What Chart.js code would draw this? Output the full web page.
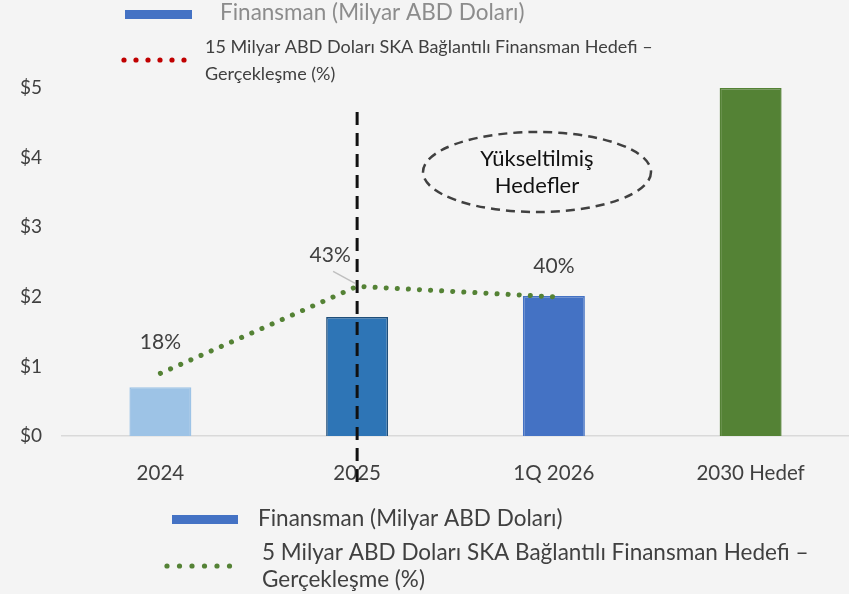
<!DOCTYPE html>
<html>
<head>
<meta charset="utf-8">
<script src="https://cdn.jsdelivr.net/npm/chart.js@4.4.1/dist/chart.umd.min.js"></script>
<style>
  html, body { margin: 0; padding: 0; background: #f4f4f4; }
  #wrap { width: 849px; height: 594px; position: relative; }
</style>
</head>
<body>
<div id="wrap"><canvas id="finChart"></canvas></div>
<script>
const categories = ['2024', '2025', '1Q 2026', '2030 Hedef'];
const financing = [0.70, 1.71, 2.01, 5.0];          // Milyar ABD Doları
const realisation = [18, 43, 40, null];             // %
const pctLabels = ['18%', '43%', '40%'];
const yTicks = [0, 1, 2, 3, 4, 5];
const barColors = ['#9dc3e6', '#2e75b6', '#4472c4', '#548235'];
const barBorders = ['#9dc3e6', '#1f4e79', '#4472c4', '#548235'];

const FONT = 'Lato, "Open Sans", sans-serif';
const ctx = document.getElementById('finChart').getContext('2d');

const extras = {
  id: 'extras',
  afterDatasetsDraw(chart) {
    const c = chart.ctx;
    const x = chart.scales.x;
    const lineMeta = chart.getDatasetMeta(1);

    // percentage labels
    c.save();
    c.font = '21px ' + FONT;
    c.fillStyle = '#404040';
    c.textAlign = 'center';
    c.textBaseline = 'middle';
    pctLabels.forEach((t, i) => {
      const p = lineMeta.data[i];
      let dx = 0;
      if (i === 1) dx = -27;
      c.fillText(t, p.x + dx, p.y - 31);
    });
    // leader line for 43%
    const p1 = lineMeta.data[1];
    c.strokeStyle = '#bfbfbf';
    c.lineWidth = 1.5;
    c.beginPath();
    c.moveTo(p1.x - 24, p1.y - 15);
    c.lineTo(p1.x - 2, p1.y - 3);
    c.stroke();

    // vertical dashed separator
    const vx = x.getPixelForValue(1);
    c.strokeStyle = '#111';
    c.lineWidth = 3;
    c.setLineDash([13, 8]);
    c.beginPath();
    c.moveTo(vx, 112);
    c.lineTo(vx, 486);
    c.stroke();

    // ellipse
    c.lineWidth = 2.5;
    c.strokeStyle = '#404040';
    c.setLineDash([9, 6]);
    c.beginPath();
    c.ellipse(537, 172, 114, 40, 0, 0, Math.PI * 2);
    c.stroke();
    c.setLineDash([]);
    c.fillStyle = '#111';
    c.font = '22px ' + FONT;
    c.fillText('Yükseltilmiş', 537, 159);
    c.fillText('Hedefler', 537, 186);

    // legends
    c.textAlign = 'left';
    // top legend
    c.fillStyle = '#4472c4';
    c.fillRect(125, 10, 67, 9);
    c.font = '22.5px ' + FONT;
    c.fillStyle = '#8c8c8c';
    c.fillText('Finansman (Milyar ABD Doları)', 220, 13);
    c.fillStyle = '#c00000';
    for (let i = 0; i < 6; i++) {
      c.beginPath();
      c.arc(124 + i * 12, 60, 2.6, 0, Math.PI * 2);
      c.fill();
    }
    c.font = '18px ' + FONT;
    c.fillStyle = '#404040';
    c.fillText('15 Milyar ABD Doları SKA Bağlantılı Finansman Hedefi –', 205, 47);
    c.fillText('Gerçekleşme (%)', 205, 74);
    // bottom legend
    c.font = '22.5px ' + FONT;
    c.fillStyle = '#4472c4';
    c.fillRect(172, 515, 66, 9);
    c.fillStyle = '#404040';
    c.fillText('Finansman (Milyar ABD Doları)', 258, 519);
    c.fillStyle = '#548235';
    for (let i = 0; i < 6; i++) {
      c.beginPath();
      c.arc(167 + i * 12.5, 566, 2.6, 0, Math.PI * 2);
      c.fill();
    }
    c.fillStyle = '#404040';
    c.fillText('5 Milyar ABD Doları SKA Bağlantılı Finansman Hedefi –', 262, 553);
    c.fillText('Gerçekleşme (%)', 262, 580);
    c.restore();
  }
};

const finChart = new Chart(ctx, {
  type: 'bar',
  data: {
    labels: categories,
    datasets: [
      {
        type: 'bar',
        label: 'Finansman (Milyar ABD Doları)',
        data: financing,
        backgroundColor: barColors,
        borderColor: barBorders,
        borderWidth: 1.5,
        barPercentage: 0.315,
        categoryPercentage: 1,
        order: 2
      },
      {
        type: 'line',
        label: '5 Milyar ABD Doları SKA Bağlantılı Finansman Hedefi – Gerçekleşme (%)',
        data: realisation,
        yAxisID: 'y2',
        borderColor: '#548235',
        borderWidth: 5,
        borderDash: [0.1, 11],
        borderCapStyle: 'round',
        pointRadius: 0,
        spanGaps: false,
        order: 1
      }
    ]
  },
  options: {
    responsive: true,
    maintainAspectRatio: false,
    animation: false,
    layout: { padding: { top: 88, left: 20, right: 0, bottom: 0 } },
    plugins: {
      legend: { display: false },
      tooltip: { enabled: false }
    },
    scales: {
      x: {
        grid: { display: false },
        border: { color: '#d9d9d9', width: 1.5 },
        ticks: { color: '#404040', font: { size: 20.5, family: FONT }, padding: 17 },
        afterFit: (s) => { s.height = 158; }
      },
      y: {
        min: 0, max: 5,
        afterBuildTicks: (s) => { s.ticks = yTicks.map(v => ({ value: v })); },
        grid: { display: false },
        border: { display: false },
        ticks: {
          color: '#404040',
          font: { size: 19, family: FONT },
          crossAlign: 'far',
          callback: (v) => '$' + v
        },
        afterFit: (s) => { s.width = 42; }
      },
      y2: {
        display: false,
        min: 0, max: 100
      }
    }
  },
  plugins: [extras]
});
</script>
</body>
</html>
